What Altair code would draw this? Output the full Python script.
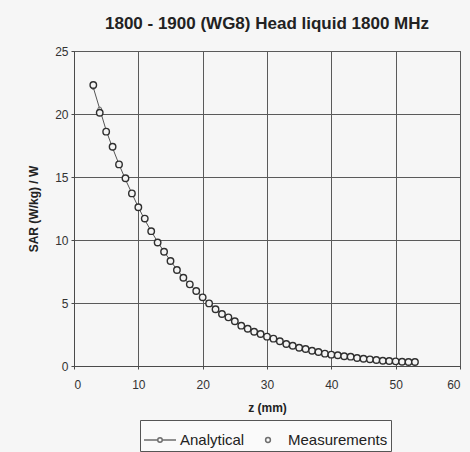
import altair as alt
import pandas as pd

z_mm = list(range(3, 54))
measurements = [22.3, 20.1, 18.6, 17.4, 16.0, 14.9, 13.7, 12.6, 11.7, 10.7,
                9.8, 9.07, 8.33, 7.62, 7.0, 6.48, 5.95, 5.45, 4.97, 4.5,
                4.13, 3.86, 3.55, 3.2, 2.96, 2.72, 2.54, 2.33, 2.17, 1.96,
                1.75, 1.61, 1.45, 1.35, 1.21, 1.11, 0.98, 0.9, 0.85, 0.77,
                0.74, 0.63, 0.58, 0.53, 0.48, 0.42, 0.40, 0.37, 0.34, 0.32, 0.32]
analytical = [22.1, 20.4, 18.7, 17.3, 16.0, 14.8, 13.7, 12.6, 11.6, 10.7,
              9.85, 9.07, 8.35, 7.65, 7.02, 6.46, 5.95, 5.46, 4.98, 4.55,
              4.16, 3.84, 3.53, 3.22, 2.95, 2.72, 2.52, 2.33, 2.15, 1.96,
              1.77, 1.61, 1.46, 1.34, 1.21, 1.10, 0.99, 0.91, 0.84, 0.77,
              0.72, 0.64, 0.58, 0.53, 0.48, 0.43, 0.40, 0.37, 0.34, 0.32, 0.31]
series_names = ["Analytical", "Measurements"]
x_ticks = [0, 10, 20, 30, 40, 50, 60]
y_ticks = [0, 5, 10, 15, 20, 25]

df_a = pd.DataFrame({"z": z_mm, "sar": analytical, "series": "Analytical"})
df_m = pd.DataFrame({"z": z_mm, "sar": measurements, "series": "Measurements"})
df_leg = pd.DataFrame({"series": series_names})

x_enc = alt.X("z:Q", scale=alt.Scale(domain=[0, 60], nice=False),
              axis=alt.Axis(values=x_ticks, title="z (mm)"))
y_enc = alt.Y("sar:Q", scale=alt.Scale(domain=[0, 25], nice=False),
              axis=alt.Axis(values=y_ticks, title="SAR (W/kg) / W"))

line = alt.Chart(df_a).mark_line(color="#555555", strokeWidth=1).encode(x=x_enc, y=y_enc)
line_pts = alt.Chart(df_a).mark_point(filled=False, color="#333333", size=14,
                                      strokeWidth=1, fill="#eeeeee").encode(x=x_enc, y=y_enc)
meas = alt.Chart(df_m).mark_point(filled=False, color="#2f2f2f", size=42,
                                  strokeWidth=1.4, fill="#f4f4f4", fillOpacity=1).encode(x=x_enc, y=y_enc)

analytical_sym = ("M-1,0L-0.14,0M0.14,0L1,0"
                  "M-0.14,0A0.14,0.14 0 1,0 0.14,0A0.14,0.14 0 1,0 -0.14,0Z")
meas_sym = "M-0.15,0A0.15,0.15 0 1,0 0.15,0A0.15,0.15 0 1,0 -0.15,0Z"

legend_layer = alt.Chart(df_leg).mark_point(filled=False, color="#333333", strokeWidth=1.3).encode(
    shape=alt.Shape("series:N",
                    scale=alt.Scale(domain=series_names, range=[analytical_sym, meas_sym]),
                    legend=alt.Legend(title=None, orient="none", legendX=66, legendY=369,
                                      direction="horizontal", symbolSize=1024,
                                      labelFontSize=15, labelFont="Liberation Sans",
                                      labelColor="#222222", labelOffset=3,
                                      columnPadding=6, padding=3,
                                      strokeColor="#555555", fillColor="#fafafa",
                                      symbolStrokeColor="#333333", symbolStrokeWidth=1.5,
                                      symbolFillColor="transparent"))
).transform_filter("false")

chart = alt.layer(line, line_pts, meas, legend_layer).properties(
    width=386, height=315,
    title=alt.TitleParams("1800 - 1900 (WG8) Head liquid 1800 MHz", fontSize=17,
                          font="Liberation Sans", fontWeight="bold", color="#222222",
                          anchor="middle", offset=12),
    autosize=alt.AutoSizeParams(type="none"),
    padding={"left": 74, "top": 51, "right": 10, "bottom": 86},
    background="#f6f6f6",
).configure_view(
    fill="#c6c6c6", stroke="#4a4a4a", strokeWidth=1
).configure_axis(
    labelFont="Liberation Sans", labelFontSize=12, labelColor="#333333",
    titleFont="Liberation Sans", titleFontSize=12, titleFontWeight="bold", titleColor="#222222",
    gridColor="#5a5a5a", gridWidth=1, gridOpacity=1,
    domainColor="#4a4a4a", tickColor="#4a4a4a", tickSize=3,
).configure_axisX(
    labelPadding=10, titlePadding=12
).configure_axisY(
    labelPadding=3, titlePadding=14
)

chart.save("out.html", embed_options={"renderer": "svg", "actions": False})
